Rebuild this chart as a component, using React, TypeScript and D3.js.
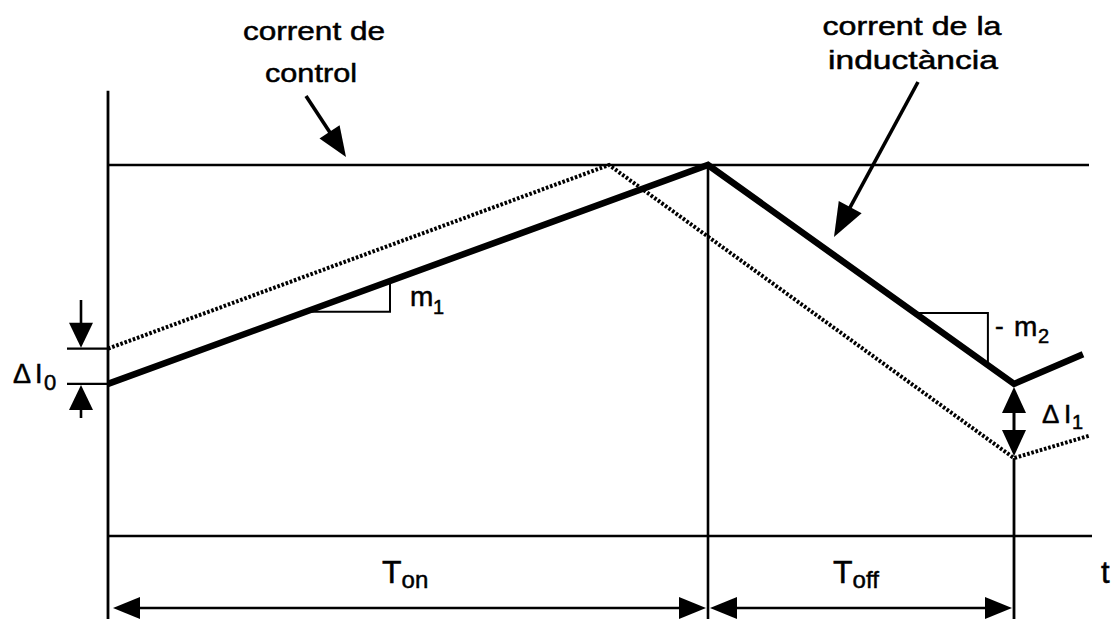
import React from "react";
import * as d3 from "d3";

// Time breakpoints (in units of the switching interval) and current levels (normalised to the control current)
const inductorTime = [0, 2, 3.02, 3.25];
const inductorCurrent = [0.41, 1.0, 0.41, 0.49];
const perturbedTime = [0, 1.67, 3.02, 3.27];
const perturbedCurrent = [0.505, 1.0, 0.21, 0.27];
const controlCurrent = 1.0;
const tOn = 2;
const tOff = 1.02;
const axisTop = 1.2;
const axisEnd = 3.28;
const controlEnd = 3.27;

const W = 1114;
const H = 619;
const FONT = "'Liberation Sans', Arial, Helvetica, sans-serif";

const x = d3.scaleLinear().domain([0, 3.3]).range([108, 1098]);
const y = d3.scaleLinear().domain([0, 1]).range([536, 165]);

type Pt = [number, number];

function arrowHead(tip: Pt, from: Pt, len: number, halfW: number): string {
  const dx = from[0] - tip[0];
  const dy = from[1] - tip[1];
  const d = Math.hypot(dx, dy) || 1;
  const ux = dx / d, uy = dy / d;
  const bx = tip[0] + ux * len, by = tip[1] + uy * len;
  const px = -uy * halfW, py = ux * halfW;
  return `M${tip[0]},${tip[1]}L${bx + px},${by + py}L${bx - px},${by - py}Z`;
}

function Arrow({ from, tip, len, halfW, width }: { from: Pt; tip: Pt; len: number; halfW: number; width: number }) {
  const dx = tip[0] - from[0];
  const dy = tip[1] - from[1];
  const d = Math.hypot(dx, dy);
  const end: Pt = [tip[0] - (dx / d) * (len - 2), tip[1] - (dy / d) * (len - 2)];
  return (
    <g>
      <line x1={from[0]} y1={from[1]} x2={end[0]} y2={end[1]} stroke="#000" strokeWidth={width} />
      <path d={arrowHead(tip, from, len, halfW)} fill="#000" />
    </g>
  );
}

// current on a segment of a piecewise-linear waveform
function interp(ts: number[], is: number[], t: number): number {
  for (let k = 0; k < ts.length - 1; k++) {
    if (t >= ts[k] && t <= ts[k + 1]) {
      const f = (t - ts[k]) / (ts[k + 1] - ts[k]);
      return is[k] + f * (is[k + 1] - is[k]);
    }
  }
  return is[is.length - 1];
}

export default function App() {
  const path = (ts: number[], is: number[]) =>
    d3
      .line<[number, number]>()
      .x((d) => x(d[0]))
      .y((d) => y(d[1]))(ts.map((t, k) => [t, is[k]] as [number, number])) || "";

  const tEnd = tOn + tOff;
  const xOn = x(tOn);
  const xEnd = x(tEnd);
  const x0 = x(0);
  const yBase = y(0);
  const dimY = yBase + 72;

  // slope triangles
  const m1a = 0.66, m1b = 0.94;
  const m1y = y(interp(inductorTime, inductorCurrent, m1a));
  const m1top = y(interp(inductorTime, inductorCurrent, m1b));
  const m2a = 2.69, m2b = 2.933;
  const m2y = y(interp(inductorTime, inductorCurrent, m2a));
  const m2bot = y(interp(inductorTime, inductorCurrent, m2b));

  const yI0a = y(perturbedCurrent[0]);
  const yI0b = y(inductorCurrent[0]);
  const yValley = y(inductorCurrent[2]);
  const yValleyP = y(perturbedCurrent[2]);

  const stroke = "#000";
  const txt = { fontFamily: FONT, fill: "#000", stroke: "#000", strokeWidth: 0.5 } as const;

  return (
    <svg width={W} height={H} style={{ position: "absolute", left: 0, top: 0, background: "#fff" }}>
      <rect width={W} height={H} fill="#fff" />

      {/* axes and reference lines */}
      <line x1={x0} y1={y(axisTop)} x2={x0} y2={H} stroke={stroke} strokeWidth={2.8} />
      <line x1={x0} y1={y(controlCurrent)} x2={x(controlEnd)} y2={y(controlCurrent)} stroke={stroke} strokeWidth={2.6} />
      <line x1={x0} y1={yBase} x2={x(axisEnd)} y2={yBase} stroke={stroke} strokeWidth={2.6} />
      <line x1={xOn} y1={y(controlCurrent)} x2={xOn} y2={H} stroke={stroke} strokeWidth={2.6} />
      <line x1={xEnd} y1={yValleyP} x2={xEnd} y2={H} stroke={stroke} strokeWidth={2.8} />

      {/* perturbed waveform */}
      <path d={path(perturbedTime, perturbedCurrent)} fill="none" stroke={stroke} strokeWidth={4} strokeDasharray="2.6 1.8" />

      {/* inductor current */}
      <path d={path(inductorTime, inductorCurrent)} fill="none" stroke={stroke} strokeWidth={6.5} strokeLinejoin="miter" />

      {/* slope triangles */}
      <polyline points={`${x(m1a)},${m1y} ${x(m1b)},${m1y} ${x(m1b)},${m1top}`} fill="none" stroke={stroke} strokeWidth={2} />
      <polyline points={`${x(m2a)},${m2y} ${x(m2b)},${m2y} ${x(m2b)},${m2bot}`} fill="none" stroke={stroke} strokeWidth={2} />

      {/* ΔI0 marker */}
      <line x1={67} y1={yI0a} x2={x0} y2={yI0a} stroke={stroke} strokeWidth={2.4} />
      <line x1={67} y1={yI0b} x2={x0} y2={yI0b} stroke={stroke} strokeWidth={2.4} />
      <Arrow from={[81, 300]} tip={[81, yI0a - 1]} len={25} halfW={12} width={2.6} />
      <Arrow from={[81, 418]} tip={[81, yI0b + 1]} len={25} halfW={12} width={2.6} />

      {/* ΔI1 marker */}
      <line x1={xEnd} y1={yValley + 20} x2={xEnd} y2={yValleyP - 20} stroke={stroke} strokeWidth={3} />
      <path d={arrowHead([xEnd, yValley + 3], [xEnd, yValleyP], 26, 12)} fill="#000" />
      <path d={arrowHead([xEnd, yValleyP - 2], [xEnd, yValley], 26, 12)} fill="#000" />

      {/* dimension arrows */}
      <line x1={x0 + 10} y1={dimY} x2={xOn - 10} y2={dimY} stroke={stroke} strokeWidth={2.4} />
      <path d={arrowHead([x0 + 5, dimY], [xOn, dimY], 27, 11)} fill="#000" />
      <path d={arrowHead([xOn - 2, dimY], [x0, dimY], 27, 11)} fill="#000" />
      <line x1={xOn + 10} y1={dimY} x2={xEnd - 10} y2={dimY} stroke={stroke} strokeWidth={2.4} />
      <path d={arrowHead([xOn + 2, dimY], [xEnd, dimY], 27, 11)} fill="#000" />
      <path d={arrowHead([xEnd - 2, dimY], [xOn, dimY], 27, 11)} fill="#000" />

      {/* callout arrows */}
      <Arrow from={[306, 96]} tip={[346, 157]} len={30} halfW={12} width={3.6} />
      <Arrow from={[918, 82]} tip={[834, 237]} len={34} halfW={13} width={3.6} />

      {/* labels */}
      <text x={314} y={40} fontSize={26} textAnchor="middle" textLength={142} lengthAdjust="spacingAndGlyphs" style={txt}>corrent de</text>
      <text x={311} y={82} fontSize={26} textAnchor="middle" textLength={92} lengthAdjust="spacingAndGlyphs" style={txt}>control</text>
      <text x={912} y={35} fontSize={26} textAnchor="middle" textLength={179} lengthAdjust="spacingAndGlyphs" style={txt}>corrent de la</text>
      <text x={913} y={69} fontSize={26} textAnchor="middle" textLength={170} lengthAdjust="spacingAndGlyphs" style={txt}>inductància</text>

      <text x={13} y={383} fontSize={27} style={txt}>Δ</text>
      <text x={35} y={383} fontSize={27} style={txt}>I</text>
      <text x={44} y={390} fontSize={22} style={txt}>0</text>

      <text x={410} y={306} fontSize={28} style={txt}>m</text>
      <text x={433} y={314} fontSize={20} style={txt}>1</text>

      <text x={995} y={335} fontSize={26} style={txt}>-</text>
      <text x={1014} y={336} fontSize={28} style={txt}>m</text>
      <text x={1038} y={343} fontSize={20} style={txt}>2</text>

      <text x={1042} y={423} fontSize={26} style={txt}>Δ</text>
      <text x={1064} y={423} fontSize={26} style={txt}>I</text>
      <text x={1072} y={429} fontSize={20} style={txt}>1</text>

      <text x={(x0 + xOn) / 2 - 26} y={583} fontSize={32} style={txt}>
        T<tspan fontSize={24} dy={5}>on</tspan>
      </text>
      <text x={(xOn + xEnd) / 2 - 28} y={583} fontSize={32} style={txt}>
        T<tspan fontSize={24} dy={5}>off</tspan>
      </text>
      <text x={1101} y={583} fontSize={31} style={txt}>t</text>
    </svg>
  );
}
